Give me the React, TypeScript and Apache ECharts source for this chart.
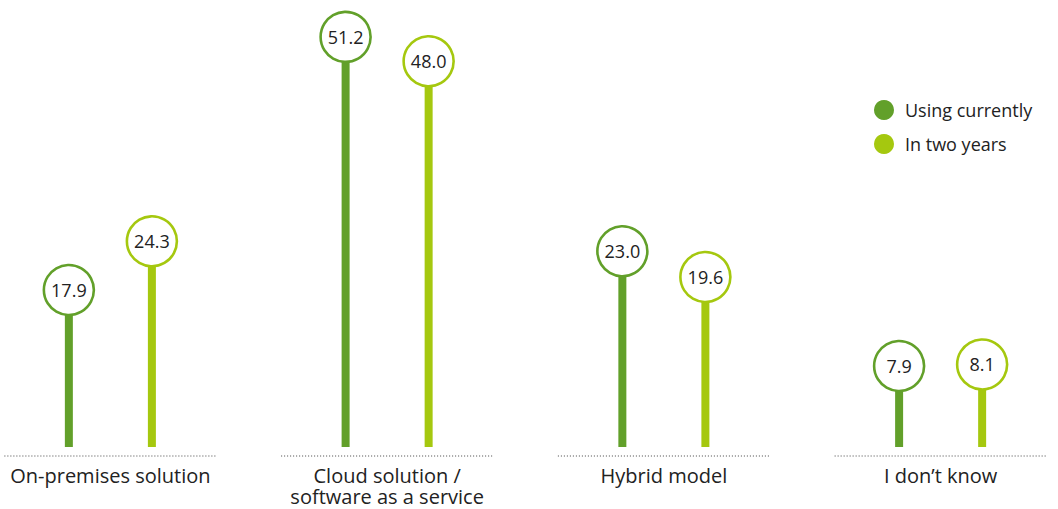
import React, { useEffect, useRef } from "react";
import * as echarts from "echarts";

const categories = [
  "On-premises solution",
  "Cloud solution /\nsoftware as a service",
  "Hybrid model",
  "I don’t know",
];
const usingCurrently = [17.9, 51.2, 23.0, 7.9];
const inTwoYears = [24.3, 48.0, 19.6, 8.1];
const seriesNames = ["Using currently", "In two years"];
const colors = ["#62a02a", "#a5c80f"];

const FONT = "'Open Sans', 'Noto Sans', sans-serif";
const SHIFT = 28; // chart canvas starts this far left of the page

function lollipop(offsetFrac: number, color: string) {
  return (params: any, api: any) => {
    const idx = api.value(0);
    const val = api.value(1);
    const band = api.size([1, 0])[0];
    const top = api.coord([idx, val]);
    const base = api.coord([idx, 0]);
    const x = top[0] + band * offsetFrac;
    const r = 25;
    return {
      type: "group",
      children: [
        {
          type: "line",
          shape: { x1: x, y1: top[1], x2: x, y2: base[1] + 21 },
          style: { stroke: color, lineWidth: 8 },
        },
        {
          type: "circle",
          shape: { cx: x, cy: top[1], r },
          style: { fill: "#ffffff", stroke: color, lineWidth: 2.6 },
        },
        {
          type: "text",
          x,
          y: top[1],
          style: {
            text: val.toFixed(1),
            fill: "#222222",
            font: `18px ${FONT}`,
            align: "center",
            verticalAlign: "middle",
          },
        },
      ],
    };
  };
}

function baseline(params: any, api: any) {
  const idx = api.value(0);
  const band = api.size([1, 0])[0];
  const p = api.coord([idx, 0]);
  const half = band * 0.383;
  return {
    type: "line",
    shape: { x1: p[0] - half, y1: p[1] + 30, x2: p[0] + half, y2: p[1] + 30 },
    style: { stroke: "#444444", lineWidth: 1, lineDash: [1, 2] },
  };
}

export default function App() {
  const ref = useRef<HTMLDivElement>(null);
  useEffect(() => {
    if (!ref.current) return;
    const chart = echarts.init(ref.current, undefined, { renderer: "svg" });
    chart.setOption({
      animation: false,
      backgroundColor: "#ffffff",
      textStyle: { fontFamily: FONT },
      grid: { left: 0, right: 0, top: 8, bottom: 83 },
      legend: {
        data: seriesNames,
        orient: "vertical",
        left: 869 + SHIFT,
        top: 95,
        icon: "circle",
        itemWidth: 20,
        itemHeight: 20,
        itemGap: 14,
        textStyle: { fontSize: 18, color: "#222222", fontFamily: FONT, padding: [0, 0, 0, 6] },
        selectedMode: false,
      },
      xAxis: {
        type: "category",
        data: categories,
        axisLine: { show: false },
        axisTick: { show: false },
        splitLine: { show: false },
        axisLabel: {
          margin: 39,
          fontSize: 20,
          lineHeight: 21,
          color: "#222222",
          fontFamily: FONT,
          interval: 0,
        },
      },
      yAxis: {
        type: "value",
        min: 0,
        max: 55,
        show: false,
      },
      series: [
        {
          type: "custom",
          name: "baseline",
          data: categories.map((_, i) => [i, 0]),
          renderItem: baseline,
          silent: true,
        },
        {
          type: "custom",
          name: seriesNames[0],
          itemStyle: { color: colors[0] },
          data: usingCurrently.map((v, i) => [i, v]),
          renderItem: lollipop(-0.15, colors[0]),
        },
        {
          type: "custom",
          name: seriesNames[1],
          itemStyle: { color: colors[1] },
          data: inTwoYears.map((v, i) => [i, v]),
          renderItem: lollipop(0.15, colors[1]),
        },
      ],
    });
    return () => chart.dispose();
  }, []);
  return (
    <div
      ref={ref}
      style={{ position: "fixed", left: -SHIFT, top: 0, width: 1058 + SHIFT + 21, height: 509 }}
    />
  );
}
